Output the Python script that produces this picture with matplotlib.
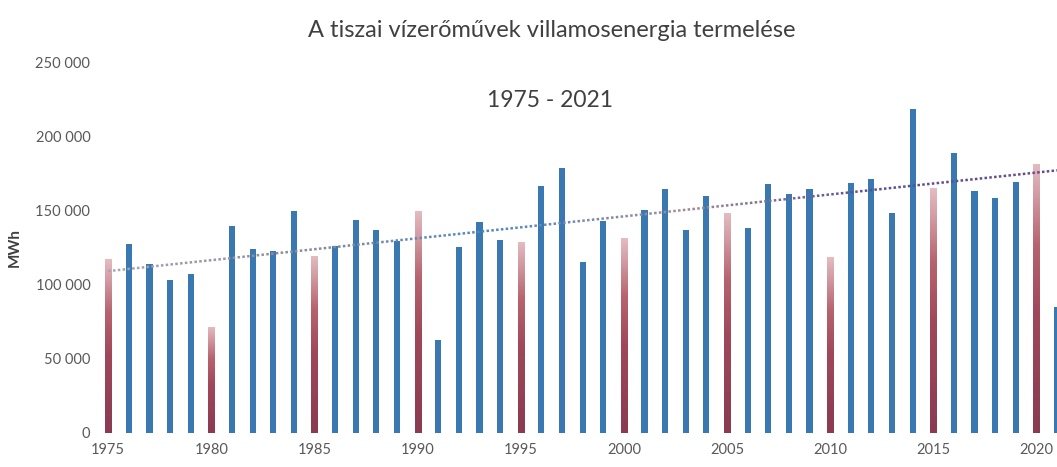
import numpy as np
import matplotlib
matplotlib.use("Agg")
import matplotlib.pyplot as plt
from matplotlib.collections import LineCollection
from matplotlib.colors import LinearSegmentedColormap

years = list(range(1975, 2022))
production = [117000, 127400, 113900, 103100, 107100, 71600, 139500, 124200, 122600, 149600,
              119500, 126000, 143500, 136800, 129400, 149600, 62700, 125500, 142400, 130000,
              128900, 166400, 178800, 115400, 142900, 131400, 150300, 164400, 136800, 159700,
              148500, 137900, 167600, 161000, 164200, 118400, 168300, 171100, 148500, 218300,
              165000, 188500, 163100, 158100, 169300, 181300, 85100]
trend_last_year = 2020
yticks = [0, 50000, 100000, 150000, 200000, 250000]
ytick_labels = ["0", "50 000", "100 000", "150 000", "200 000", "250 000"]
xticks = [1975, 1980, 1985, 1990, 1995, 2000, 2005, 2010, 2015, 2020]
title = "A tiszai vízerőművek villamosenergia termelése"
subtitle = "1975 - 2021"
ylabel = "MWh"

plt.rcParams['font.family'] = ['Lato', 'DejaVu Sans']

fig = plt.figure(figsize=(10.57, 4.67), dpi=100)
ax = fig.add_axes([100/1057, 34/467, 957/1057, 371/467])

blue = "#3a78b2"
red_cmap = LinearSegmentedColormap.from_list(
    "rg", [(0.0, "#8a3a52"), (0.45, "#a0485a"), (0.7, "#b7646f"), (0.88, "#d29aa2"), (1.0, "#e4bcc2")])
width = 0.3
for yr, v in zip(years, production):
    if yr % 5 == 0:
        bar = ax.bar(yr, v, width=width, color="none", edgecolor="none", zorder=2)[0]
        grad = np.linspace(0, 1, 256).reshape(-1, 1)
        im = ax.imshow(grad, cmap=red_cmap, origin="lower", aspect="auto",
                       extent=[yr - width / 2, yr + width / 2, 0, v], zorder=2)
        im.set_clip_path(bar)
    else:
        ax.bar(yr, v, width=width, color=blue, edgecolor="none", zorder=2)

# linear trend line (fitted on the full years)
yrs = np.array([y for y in years if y <= trend_last_year], dtype=float)
vals = np.array([v for y, v in zip(years, production) if y <= trend_last_year], dtype=float)
k, b = np.polyfit(yrs, vals, 1)
tx = np.linspace(1975, 2021.2, 200)
ty = k * tx + b
pts = np.array([tx, ty]).T.reshape(-1, 1, 2)
segs = np.concatenate([pts[:-1], pts[1:]], axis=1)
cm = LinearSegmentedColormap.from_list("tr", ["#a7a4b4", "#8d8a98", "#4f86c6", "#a08c98", "#5a4f92", "#6a4a86"])
lc = LineCollection(segs, cmap=cm, linewidths=1.8, linestyles=(0, (1, 1.2)), zorder=3)
lc.set_array(np.linspace(0, 1, len(segs)))
ax.add_collection(lc)

ax.set_xlim(1974.6, 2021.0)
ax.set_ylim(0, 250000)
ax.set_yticks(yticks)
ax.set_yticklabels(ytick_labels)
ax.set_xticks(xticks)
ax.set_xticklabels([str(x) for x in xticks])
ax.tick_params(axis="both", length=0, colors="#595959", labelsize=10.5)
ax.tick_params(axis="y", pad=7)
ax.tick_params(axis="x", pad=7)
for s in ax.spines.values():
    s.set_visible(False)
ax.set_ylabel(ylabel, fontsize=11, fontweight="bold", color="#404040", labelpad=10)

fig.text(0.522, 0.935, title, ha="center", va="center", fontsize=17, color="#404040")
fig.text(0.52, 0.785, subtitle, ha="center", va="center", fontsize=16.5, color="#404040")

fig.savefig("out.png", dpi=100)
